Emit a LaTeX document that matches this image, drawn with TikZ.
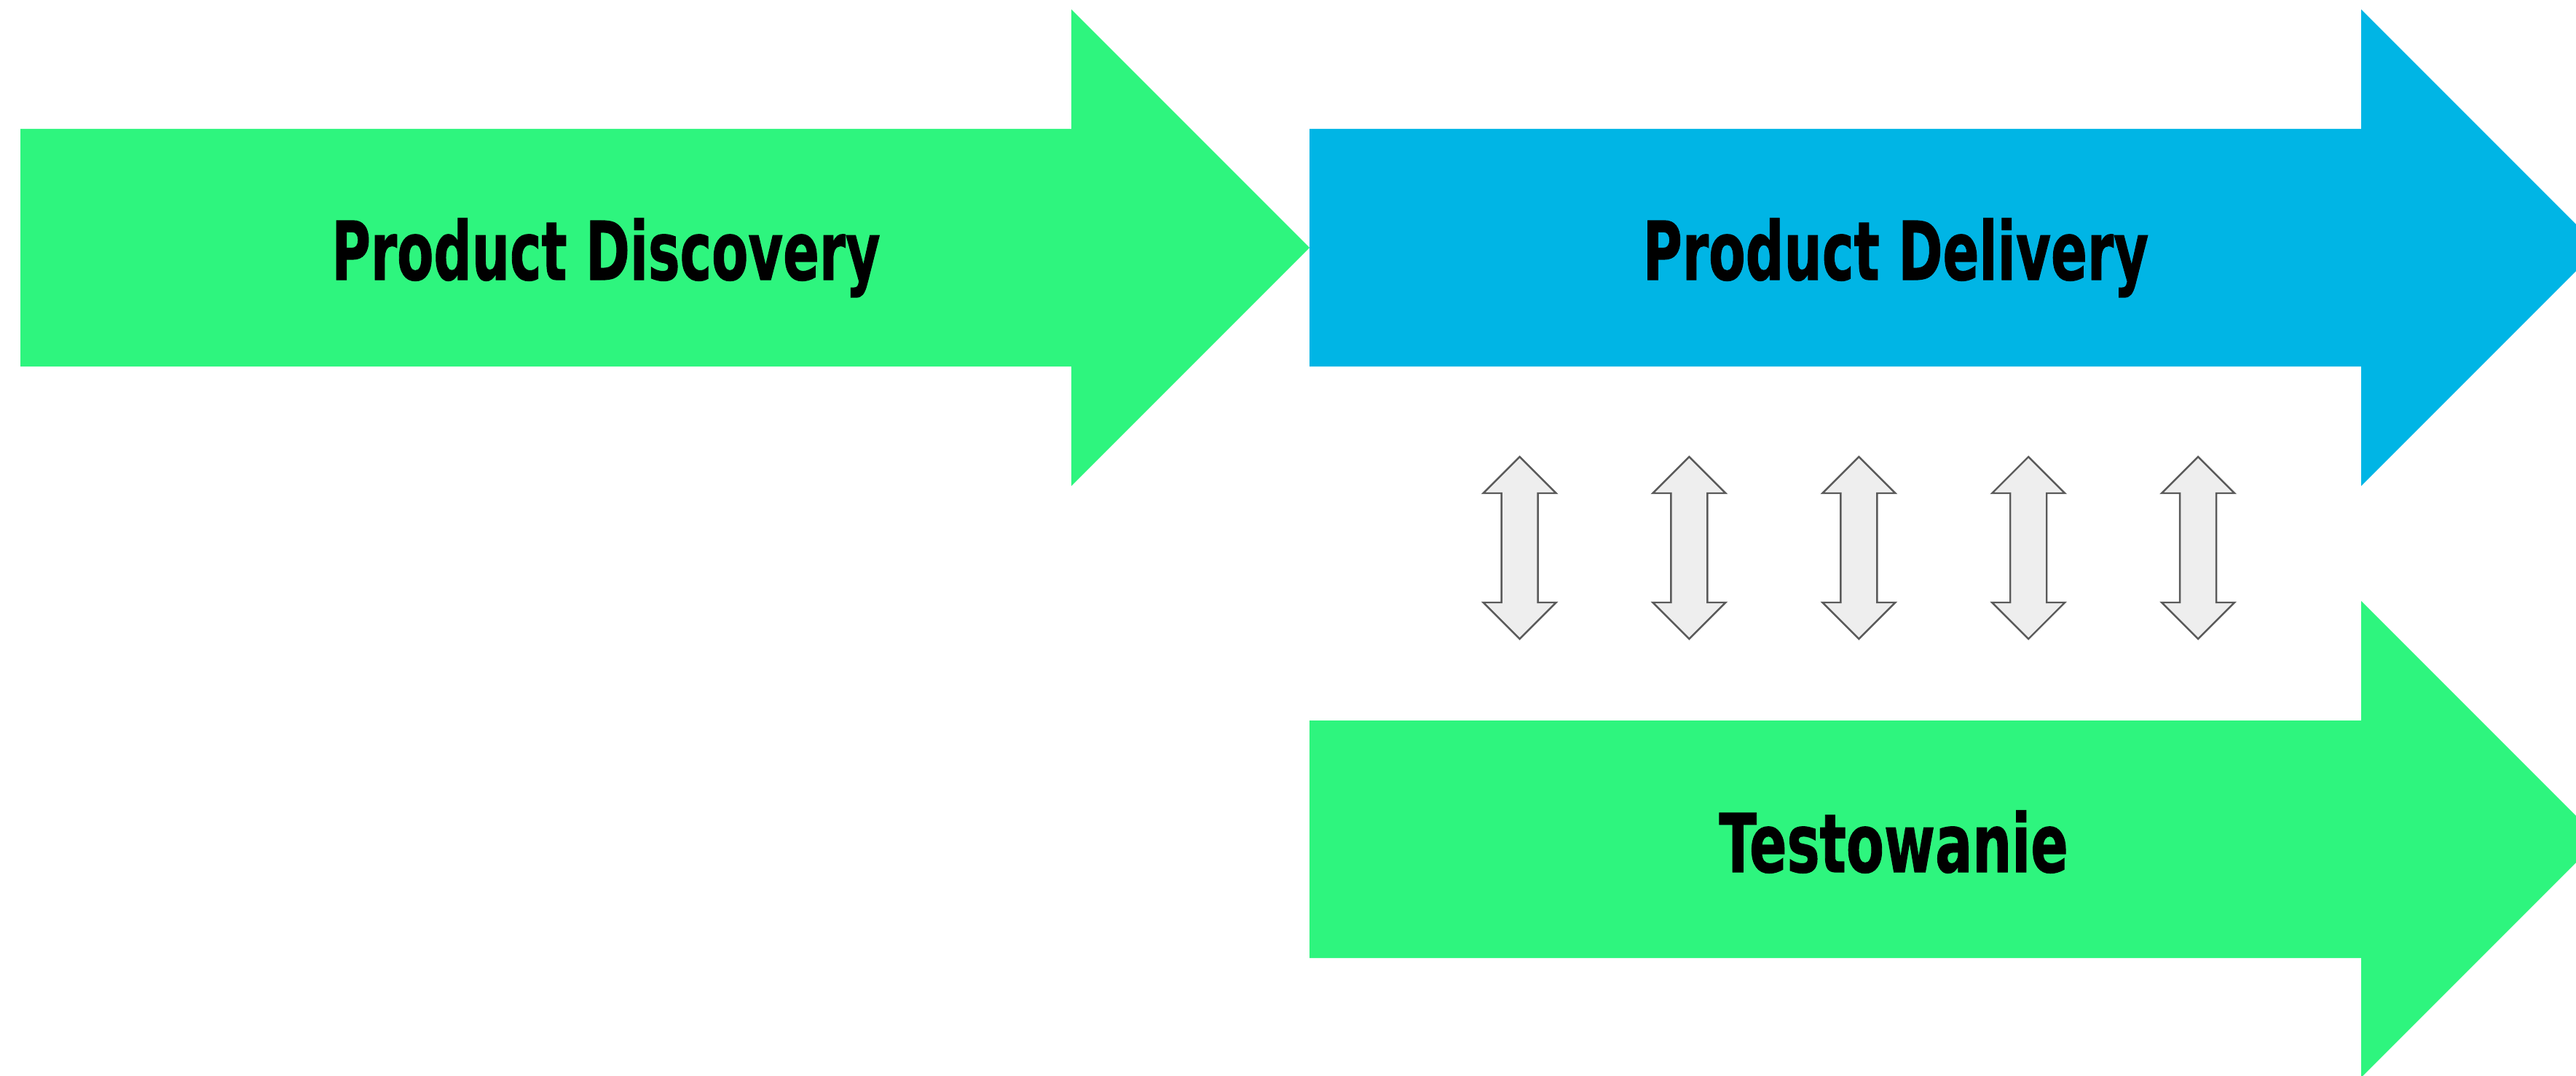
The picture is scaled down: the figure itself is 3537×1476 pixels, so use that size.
\documentclass[tikz,border=0pt]{standalone}
\usepackage{fontspec}
\usepackage{graphicx}
\setmainfont{DejaVu Sans}[BoldFeatures={FakeBold=1.2}]
\definecolor{arrowgreen}{RGB}{46,245,126}
\definecolor{arrowblue}{RGB}{0,181,229}
\definecolor{linkfill}{RGB}{238,238,238}
\definecolor{linkline}{RGB}{90,90,90}
\newcommand{\lbl}[2]{\resizebox{#1}{\height}{\fontsize{31.6}{38}\selectfont\bfseries #2}}
\begin{document}
\begin{tikzpicture}[x=0.01cm,y=-0.01cm,
  linkarrow/.style={fill=linkfill,draw=linkline,line width=0.7pt,line join=miter},
  label/.style={inner sep=0pt,outer sep=0pt,anchor=base,text=black}]
\useasboundingbox (0,0) rectangle (3537,1476);
\clip (0,0) rectangle (3537,1476);
\fill[white] (0,0) rectangle (3537,1476);
% Product Discovery arrow
\fill[arrowgreen] (28,177) -- (1471,177) -- (1471,13) -- (1798,340) -- (1471,667) -- (1471,503) -- (28,503) -- cycle;
% Product Delivery arrow
\fill[arrowblue] (1798,177) -- (3242,177) -- (3242,13) -- (3569,340) -- (3242,667) -- (3242,503) -- (1798,503) -- cycle;
% Testowanie arrow
\fill[arrowgreen] (1798,989) -- (3242,989) -- (3242,825) -- (3569,1152) -- (3242,1479) -- (3242,1315) -- (1798,1315) -- cycle;
% double arrows
\foreach \cx in {2086.5,2319.4,2552.3,2785.2,3018.1}{
  \draw[linkarrow] (\cx,627) -- (\cx+50,677) -- (\cx+25,677) -- (\cx+25,827) -- (\cx+50,827)
    -- (\cx,877) -- (\cx-50,827) -- (\cx-25,827) -- (\cx-25,677) -- (\cx-50,677) -- cycle;
}
\node[label] (discovery) at (832,384) {\lbl{7.53cm}{Product Discovery}};
\node[label] (delivery) at (2603,384) {\lbl{6.94cm}{Product Delivery}};
\node[label] (testing) at (2600,1197) {\lbl{4.79cm}{Testowanie}};
\end{tikzpicture}
\end{document}
